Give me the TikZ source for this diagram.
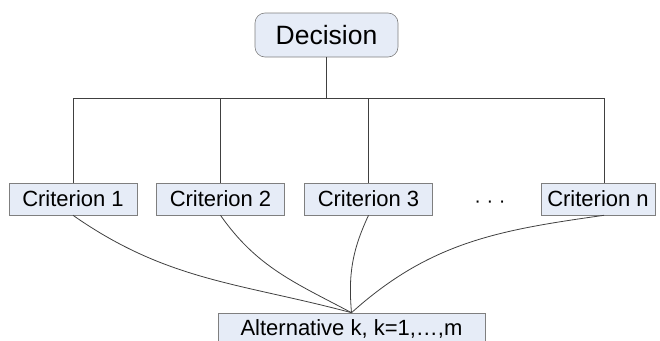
\documentclass[tikz,border=0pt]{standalone}
\usepackage{fontspec}
\setmainfont{Liberation Sans}
\usepackage{tikz}
\definecolor{boxblue}{HTML}{E6ECF7}
\definecolor{boxline}{HTML}{7F7F7F}
\definecolor{wire}{HTML}{404040}
\tikzstyle{dn}=[shape=rectangle,rounded corners=10,draw=boxline,fill=boxblue,semithick,minimum width=143,minimum height=44,inner sep=0pt,font=\fontsize{26.5}{28}\selectfont]
\tikzstyle{cr}=[shape=rectangle,draw=boxline,fill=boxblue,semithick,minimum width=128,minimum height=32,inner sep=0pt,font=\fontsize{22}{24}\selectfont]
\tikzstyle{wire}=[draw=wire,thick]

\begin{document}
\begin{tikzpicture}[x=1pt,y=-1pt]
        \useasboundingbox (0,0) rectangle (660,340);
        \node[dn] (D) at (326.5, 35) {Decision};
        \node[cr] (C1) at (73, 199) {Criterion 1};
        \node[cr] (C2) at (220.5, 199) {Criterion 2};
        \node[cr] (C3) at (368.5, 199) {Criterion 3};
        \node[font=\fontsize{20}{22}\selectfont] (dots) at (490, 204) {· · ·};
        \node[cr,minimum width=114] (Cn) at (598, 199) {Criterion n};
        \node[cr,minimum width=267] (A) at (351.5, 329) {Alternative k, k=1,\dots,m};
        % tree from the decision
        \coordinate (top) at (326.5, 98);
        \coordinate (b1) at (73, 98);
        \coordinate (b2) at (220.5, 98);
        \coordinate (b3) at (368.5, 98);
        \coordinate (bn) at (604, 98);
        \draw[wire] (D.south) -- (top);
        \draw[wire] (b1) -- (bn);
        \draw[wire] (b1) -- (C1.north);
        \draw[wire] (b2) -- (C2.north);
        \draw[wire] (b3) -- (C3.north);
        \draw[wire] (bn) -- (bn |- Cn.north);
        % curves to the alternative
        \draw[wire] (C1.south) to[out=-35, in=165] (A.north);
        \draw[wire] (C2.south) to[out=-55, in=152] (A.north);
        \draw[wire] (C3.south) to[out=-115, in=95] (A.north);
        \draw[wire] (bn |- Cn.south) to[out=188, in=42] (A.north);
    \end{tikzpicture}
\end{document}
